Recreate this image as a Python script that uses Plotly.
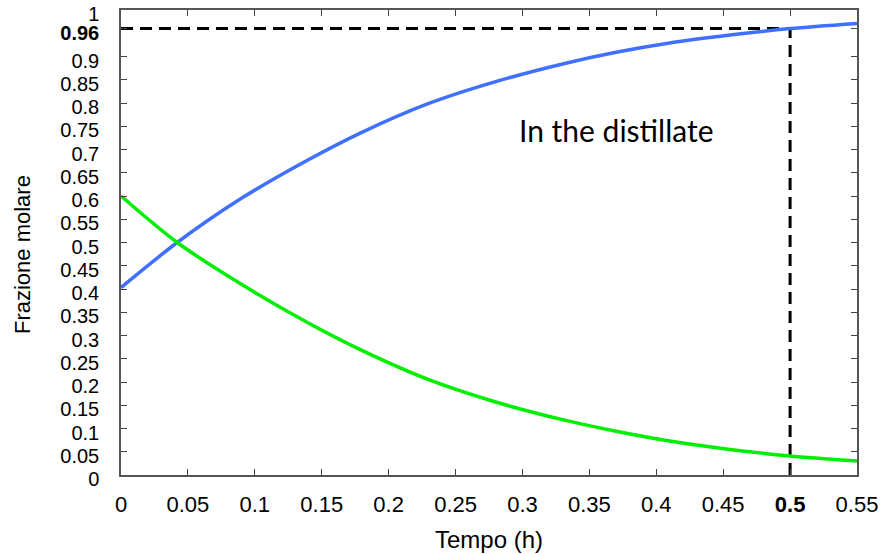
import plotly.graph_objects as go

# Time axis (h) and molar fractions of the two components in the distillate
tempo = [0, 0.042, 0.09, 0.14, 0.18, 0.23, 0.28, 0.33, 0.37, 0.41, 0.455, 0.5, 0.55]
frazione_leggero = [0.403, 0.500, 0.595, 0.678, 0.737, 0.799, 0.846, 0.884, 0.909, 0.929, 0.946, 0.960, 0.971]
frazione_pesante = [0.600, 0.500, 0.410, 0.327, 0.268, 0.205, 0.157, 0.119, 0.094, 0.073, 0.055, 0.041, 0.030]

# Reference point highlighted by the dashed guides
t_rif = 0.5
x_rif = 0.96

x_ticks = [0, 0.05, 0.1, 0.15, 0.2, 0.25, 0.3, 0.35, 0.4, 0.45, 0.5, 0.55]
x_labels = ["0", "0.05", "0.1", "0.15", "0.2", "0.25", "0.3", "0.35", "0.4", "0.45", "<b>0.5</b>", "0.55"]
y_ticks = [0, 0.05, 0.1, 0.15, 0.2, 0.25, 0.3, 0.35, 0.4, 0.45, 0.5, 0.55, 0.6,
           0.65, 0.7, 0.75, 0.8, 0.85, 0.9, 0.96, 1]
y_labels = ["0", "0.05", "0.1", "0.15", "0.2", "0.25", "0.3", "0.35", "0.4", "0.45", "0.5",
            "0.55", "0.6", "0.65", "0.7", "0.75", "0.8", "0.85", "0.9", "<b>0.96</b>", "1"]

FONT = "Arial, Liberation Sans, sans-serif"

fig = go.Figure()

# Dashed guide lines
fig.add_trace(go.Scatter(x=[0, t_rif], y=[x_rif, x_rif], mode="lines",
                         line=dict(color="black", width=3, dash="12px,7px"),
                         hoverinfo="skip", showlegend=False))
fig.add_trace(go.Scatter(x=[t_rif, t_rif], y=[0, x_rif], mode="lines",
                         line=dict(color="black", width=3, dash="12px,7px"),
                         hoverinfo="skip", showlegend=False))

fig.add_trace(go.Scatter(x=tempo, y=frazione_leggero, mode="lines",
                         line=dict(color="#4070FF", width=3.5, shape="spline", smoothing=0.8),
                         showlegend=False))
fig.add_trace(go.Scatter(x=tempo, y=frazione_pesante, mode="lines",
                         line=dict(color="#00EE00", width=3.5, shape="spline", smoothing=0.8),
                         showlegend=False))

fig.add_annotation(x=0.37, y=0.742, xref="x", yref="y", text="In the distillate",
                   showarrow=False, font=dict(family="Lato, Open Sans, sans-serif", size=30, color="black"))

# Vertical axis title, placed left of the tick labels
fig.add_annotation(x=-0.1345, y=0.473, xref="paper", yref="paper", text="Frazione molare",
                   textangle=-90, showarrow=False, xanchor="center", yanchor="middle",
                   font=dict(family=FONT, size=22, color="black"))

axis_common = dict(showgrid=False, zeroline=False, showline=True, linecolor="#555555",
                   linewidth=1.5, mirror="ticks", ticks="inside", ticklen=6,
                   tickcolor="#444444", tickwidth=1, automargin=False)

fig.update_xaxes(range=[0, 0.55], tickvals=x_ticks, ticktext=x_labels,
                 ticklabelstandoff=9, tickfont=dict(family=FONT, size=22, color="black"),
                 title=dict(text="Tempo (h)", font=dict(family=FONT, size=24, color="black")),
                 **axis_common)
fig.update_yaxes(range=[0, 1], tickvals=y_ticks, ticktext=y_labels,
                 ticklabelstandoff=16, ticklabelshift=4,
                 tickfont=dict(family=FONT, size=20, color="black"),
                 **axis_common)

fig.update_layout(width=881, height=554, margin=dict(l=121, r=24, t=10, b=79, autoexpand=False),
                  plot_bgcolor="white", paper_bgcolor="white")

fig.write_html("out.html")
